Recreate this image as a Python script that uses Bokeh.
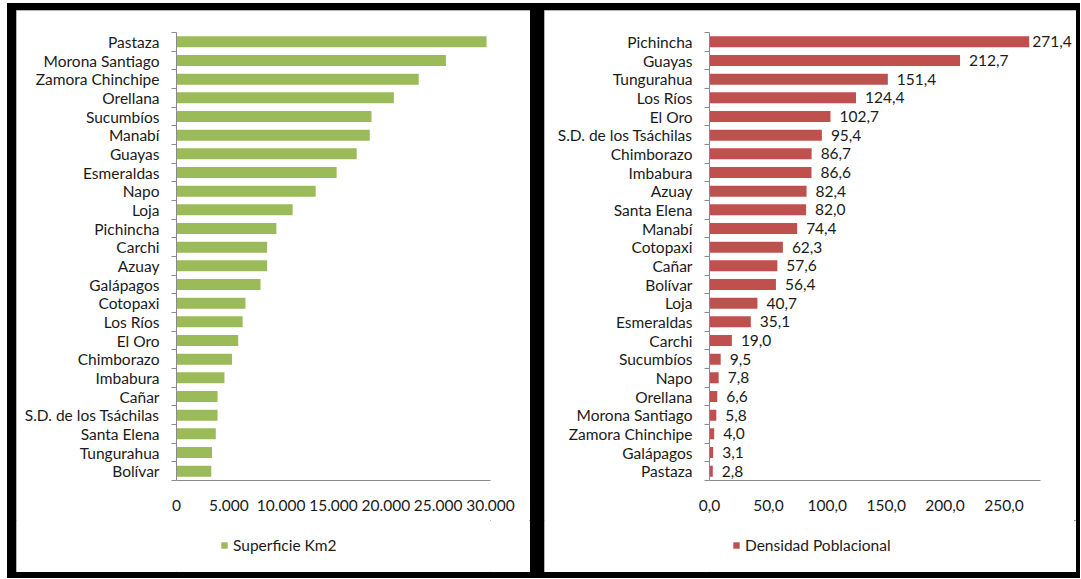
from bokeh.plotting import figure
from bokeh.models import (Range1d, FixedTicker, ColumnDataSource, LabelSet,
                          Legend, LegendItem)
from bokeh.core.properties import value
from bokeh.layouts import row, column
from bokeh.embed import file_html
from bokeh.resources import INLINE

# ---------------- data ----------------
sup_provincias = ["Pastaza", "Morona Santiago", "Zamora Chinchipe", "Orellana",
                  "Sucumbíos", "Manabí", "Guayas", "Esmeraldas", "Napo", "Loja",
                  "Pichincha", "Carchi", "Azuay", "Galápagos", "Cotopaxi",
                  "Los Ríos", "El Oro", "Chimborazo", "Imbabura", "Cañar",
                  "S.D. de los Tsáchilas", "Santa Elena", "Tungurahua", "Bolívar"]
sup_valores = [29620, 25740, 23140, 20770, 18630, 18465, 17215, 15300, 13295,
               11095, 9545, 8660, 8660, 8030, 6585, 6320, 5895, 5300, 4580,
               3920, 3920, 3755, 3390, 3325]
sup_ticks = [0, 5000, 10000, 15000, 20000, 25000, 30000]
sup_tick_labels = ["0", "5.000", "10.000", "15.000", "20.000", "25.000", "30.000"]
sup_serie = "Superficie Km2"

den_provincias = ["Pichincha", "Guayas", "Tungurahua", "Los Ríos", "El Oro",
                  "S.D. de los Tsáchilas", "Chimborazo", "Imbabura", "Azuay",
                  "Santa Elena", "Manabí", "Cotopaxi", "Cañar", "Bolívar", "Loja",
                  "Esmeraldas", "Carchi", "Sucumbíos", "Napo", "Orellana",
                  "Morona Santiago", "Zamora Chinchipe", "Galápagos", "Pastaza"]
den_valores = [271.4, 212.7, 151.4, 124.4, 102.7, 95.4, 86.7, 86.6, 82.4, 82.0,
               74.4, 62.3, 57.6, 56.4, 40.7, 35.1, 19.0, 9.5, 7.8, 6.6, 5.8,
               4.0, 3.1, 2.8]
den_ticks = [0, 50, 100, 150, 200, 250]
den_tick_labels = ["0,0", "50,0", "100,0", "150,0", "200,0", "250,0"]
den_serie = "Densidad Poblacional"

FONT = "Lato"
FS = "15.5px"
TXT = "#1a1a1a"
AXC = "#8a8a8a"
PANEL_STYLE = {"background-color": "white",
               "outline": "1px solid #9a9a9a", "outline-offset": "-1px"}


def panel(cats, vals, ticks, tick_labels, axis_max, color, serie,
          border_left, axis_w, frame_w, border_right, legend_x, labels=False):
    n = len(cats)
    centers = [i + 0.5 for i in range(n)]
    src = ColumnDataSource(dict(y=centers, v=vals, cat=cats))
    # frame may be wider than the drawn axis (room for data labels)
    x_end = axis_max * frame_w / axis_w
    total_w = border_left + frame_w + border_right
    p = figure(frame_width=frame_w, frame_height=448,
               x_range=Range1d(0, x_end), y_range=Range1d(n, 0),
               min_border_left=border_left, min_border_right=border_right,
               min_border_top=22, min_border_bottom=40,
               output_backend="svg", toolbar_location=None,
               background_fill_color="white", border_fill_color="white",
               outline_line_color=None)
    p.grid.visible = False
    p.hbar(y="y", right="v", left=0, height=0.59, source=src,
           fill_color=color, line_color=None)

    # y axis: labels at category centres, ticks at category boundaries
    ya = p.yaxis[0]
    ya.ticker = FixedTicker(ticks=centers, minor_ticks=list(range(n + 1)))
    ya.major_label_overrides = {c: name for c, name in zip(centers, cats)}
    ya.major_tick_out = 0
    ya.major_tick_in = 0
    ya.minor_tick_out = 5
    ya.minor_tick_in = 0
    ya.minor_tick_line_color = AXC
    ya.axis_line_color = AXC
    ya.major_label_standoff = 12

    xa = p.xaxis[0]
    xa.ticker = FixedTicker(ticks=ticks)
    xa.bounds = (0, axis_max)
    xa.major_label_overrides = {t: s for t, s in zip(ticks, tick_labels)}
    xa.major_tick_out = 0
    xa.major_tick_in = 0
    xa.minor_tick_out = 0
    xa.axis_line_color = AXC
    xa.major_label_standoff = 19

    for ax in (xa, ya):
        ax.major_label_text_font = FONT
        ax.major_label_text_font_size = FS
        ax.major_label_text_color = TXT

    if labels:
        src.data["txt"] = [f"{v:.1f}".replace(".", ",") for v in vals]
        src.data["xoff"] = [3 if v > 0.95 * axis_max else 9 for v in vals]
        ls = LabelSet(x="v", y="y", text="txt", x_offset="xoff", source=src,
                      text_font=value(FONT), text_font_size=value(FS),
                      text_color=TXT, text_baseline="middle", text_align="left")
        p.add_layout(ls)

    # legend strip below the chart (its own small canvas, no axes);
    # its series renderer is a zero-height copy kept outside the visible range
    lg = figure(width=total_w, height=52, x_range=Range1d(-2e6, -1e6),
                y_range=Range1d(-2e6, -1e6), x_axis_type=None,
                y_axis_type=None, min_border=0, output_backend="svg",
                toolbar_location=None, background_fill_color="white",
                border_fill_color="white", outline_line_color=None)
    lg.grid.visible = False
    proxy = lg.hbar(y="y", right="v", left=0, height=0, source=src,
                    fill_color=color, line_color=None)
    leg = Legend(items=[LegendItem(label=serie, renderers=[proxy])],
                 location=(legend_x, 17), orientation="horizontal",
                 border_line_color=None, background_fill_alpha=0,
                 padding=0, margin=0, spacing=0,
                 glyph_width=8, glyph_height=8, label_standoff=5,
                 label_height=20, label_text_font=FONT,
                 label_text_font_size=FS, label_text_color=TXT)
    lg.add_layout(leg)

    col = column(p, lg, spacing=0, styles=PANEL_STYLE)
    return col


c1 = panel(sup_provincias, sup_valores, sup_ticks, sup_tick_labels, 30000,
           "#9BBB59", sup_serie, 160, 314, 314, 40, 44)
c2 = panel(den_provincias, den_valores, den_ticks, den_tick_labels, 281,
           "#C0504D", den_serie, 165, 331, 365, 2, 23, labels=True)

c1.margin = (7, 0, 6, 9)
c2.margin = (7, 4, 6, 14)

layout = row(c1, c2, spacing=0, styles={"background-color": "black"})
layout.margin = (3, 0, 0, 7)

open("out.html", "w").write(file_html(layout, INLINE))
